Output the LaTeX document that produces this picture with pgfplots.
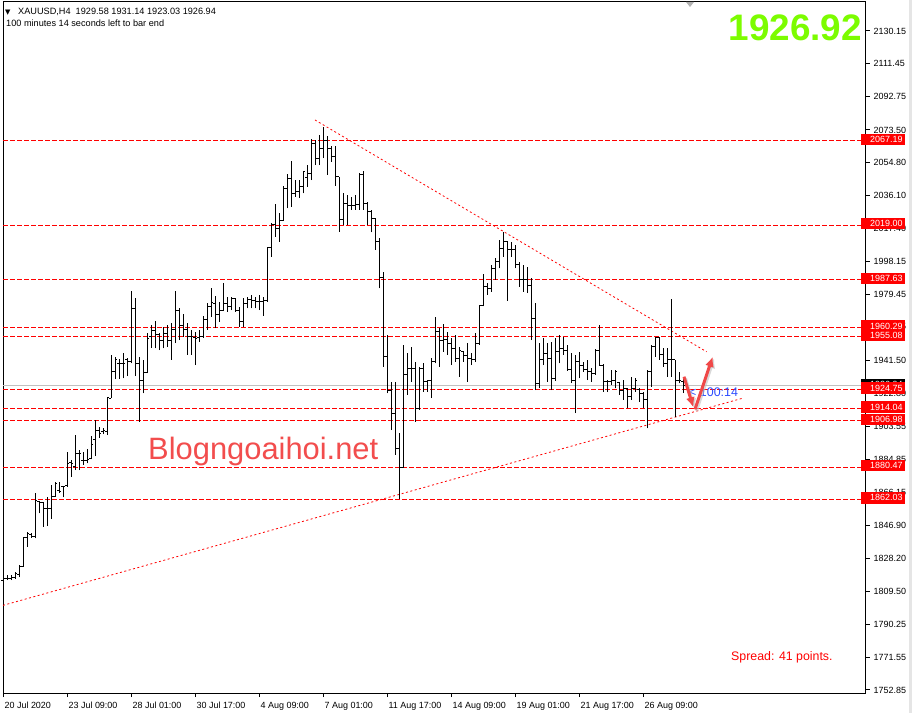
\documentclass[border=0pt]{standalone}
\usepackage{pgfplots}
\pgfplotsset{compat=1.18}
\usepackage{pgfplotstable}
\usepackage{fontspec}
\setmainfont{Liberation Sans}
\newfontfamily\dejavu{DejaVu Sans}
\usetikzlibrary{arrows.meta}

\definecolor{lvlred}{HTML}{FF0000}
\definecolor{arrred}{HTML}{F04848}
\definecolor{wmred}{HTML}{F24D4D}
\definecolor{pricegreen}{HTML}{7CFC00}
\definecolor{timerblue}{HTML}{2B4BFF}
\definecolor{bidgray}{HTML}{C0C0C0}

% open tick to the left, close tick to the right, nothing for the high-low line
\pgfdeclareplotmark{otick}{\pgfpathmoveto{\pgfqpoint{-2bp}{0pt}}\pgfpathlineto{\pgfqpoint{0pt}{0pt}}\pgfusepathqstroke}
\pgfdeclareplotmark{ctick}{\pgfpathmoveto{\pgfqpoint{0pt}{0pt}}\pgfpathlineto{\pgfqpoint{2bp}{0pt}}\pgfusepathqstroke}
\pgfdeclareplotmark{nomark}{}

% XAUUSD H4 bars: index, open, high, low, close
\pgfplotstableread{
i o h l c
0 1815.8 1820.6 1814.9 1816.4
1 1816.4 1818.7 1815.8 1816.7
2 1816.7 1818.7 1815.8 1817.0
3 1817.0 1820.4 1816.4 1819.3
4 1818.7 1824.4 1817.5 1823.8
5 1823.8 1840.6 1823.4 1839.9
6 1839.9 1843.5 1834.9 1842.7
7 1841.6 1842.7 1839.9 1840.5
8 1840.5 1865.8 1839.7 1861.2
9 1860.7 1861.2 1854.0 1860.1
10 1860.1 1860.7 1846.3 1856.9
11 1856.9 1863.5 1846.7 1856.9
12 1856.9 1870.2 1850.8 1863.9
13 1863.9 1871.8 1863.5 1871.2
14 1866.8 1872.1 1865.8 1866.4
15 1869.3 1869.7 1863.2 1869.6
16 1870.2 1889.1 1869.3 1882.6
17 1883.0 1884.5 1875.0 1882.6
18 1880.7 1898.9 1878.8 1888.0
19 1888.4 1890.3 1878.8 1888.0
20 1884.5 1889.3 1881.7 1884.5
21 1884.5 1890.7 1882.6 1885.1
22 1885.5 1898.5 1884.9 1893.5
23 1896.0 1907.4 1886.8 1901.7
24 1901.7 1903.6 1897.3 1899.8
25 1900.7 1902.7 1899.4 1901.7
26 1900.7 1920.8 1898.9 1920.4
27 1920.0 1944.7 1919.9 1935.1
28 1935.1 1943.7 1930.9 1941.8
29 1939.9 1942.4 1931.1 1939.9
30 1939.9 1945.6 1931.3 1939.9
31 1941.8 1942.8 1932.6 1940.8
32 1940.8 1981.3 1939.9 1971.4
33 1971.4 1977.1 1932.6 1939.9
34 1939.9 1943.7 1906.5 1929.9
35 1929.9 1941.8 1922.7 1934.5
36 1934.5 1957.1 1934.2 1954.2
37 1955.5 1961.8 1948.7 1958.6
38 1958.6 1964.3 1948.5 1956.1
39 1956.1 1957.1 1947.5 1952.8
40 1953.2 1960.9 1948.5 1956.7
41 1956.7 1961.8 1949.2 1953.2
42 1953.2 1963.0 1941.8 1959.4
43 1959.4 1981.0 1951.5 1970.4
44 1970.4 1971.4 1953.2 1961.8
45 1961.8 1968.1 1955.1 1959.0
46 1959.0 1963.0 1944.7 1955.1
47 1955.1 1959.0 1944.7 1955.1
48 1954.9 1958.0 1938.9 1954.2
49 1954.4 1959.0 1952.3 1955.1
50 1955.1 1967.0 1954.5 1964.7
51 1964.7 1974.6 1959.0 1972.3
52 1972.3 1982.8 1966.6 1974.6
53 1974.4 1978.4 1959.9 1967.6
54 1967.6 1975.2 1963.7 1970.4
55 1970.4 1985.7 1969.8 1974.3
56 1974.3 1978.0 1969.4 1972.3
57 1972.3 1977.7 1970.4 1977.1
58 1977.1 1977.5 1969.4 1970.4
59 1970.4 1972.3 1960.9 1963.7
60 1963.7 1977.1 1960.9 1973.9
61 1973.9 1977.7 1971.4 1976.5
62 1976.5 1979.0 1971.4 1975.7
63 1975.7 1978.0 1971.4 1975.2
64 1975.2 1979.0 1970.4 1975.2
65 1975.2 1977.7 1967.0 1975.7
66 1975.7 2006.7 1975.2 2006.3
67 2006.3 2020.1 2000.9 2019.1
68 2019.1 2031.1 2012.4 2017.2
69 2017.2 2025.8 2009.5 2021.9
70 2021.9 2041.4 2021.4 2040.1
71 2040.1 2048.3 2028.6 2045.8
72 2045.8 2055.7 2029.6 2037.2
73 2037.2 2044.8 2035.3 2038.1
74 2038.1 2044.8 2034.4 2041.0
75 2041.0 2050.2 2037.2 2049.6
76 2046.0 2053.4 2041.0 2048.7
77 2048.7 2068.3 2044.8 2066.0
78 2066.0 2067.7 2053.4 2057.3
79 2057.3 2070.6 2053.4 2063.0
80 2063.0 2075.4 2057.4 2067.7
81 2067.7 2070.2 2047.7 2063.0
82 2063.0 2064.5 2055.3 2058.2
83 2058.2 2064.5 2041.6 2046.7
84 2046.7 2046.7 2015.2 2022.5
85 2022.5 2037.2 2019.1 2031.5
86 2031.5 2036.3 2019.1 2030.5
87 2030.5 2035.3 2027.7 2030.5
88 2030.5 2036.3 2027.7 2030.9
89 2030.9 2048.7 2027.7 2047.7
90 2047.7 2050.0 2027.7 2031.5
91 2031.5 2032.1 2019.1 2026.7
92 2026.7 2027.7 2014.9 2022.9
93 2022.9 2022.9 2004.8 2009.5
94 2009.5 2011.5 1982.8 1988.9
95 1988.9 1992.3 1938.0 1943.7
96 1943.7 1956.1 1922.7 1924.6
97 1924.6 1929.4 1901.7 1911.3
98 1911.3 1929.4 1887.4 1891.2
99 1891.2 1899.8 1862.0 1880.1
100 1880.1 1950.4 1880.1 1933.2
101 1933.2 1945.6 1921.8 1937.0
102 1937.0 1949.4 1929.4 1937.0
103 1937.0 1940.8 1906.5 1914.1
104 1914.1 1938.0 1913.2 1937.0
105 1937.0 1939.9 1923.6 1929.4
106 1929.4 1930.3 1923.6 1930.3
107 1930.3 1942.8 1919.9 1940.8
108 1940.8 1966.6 1939.9 1958.0
109 1958.0 1959.9 1938.0 1953.2
110 1953.2 1962.2 1946.5 1953.8
111 1953.8 1958.0 1944.7 1951.4
112 1951.4 1954.4 1938.9 1948.5
113 1948.5 1956.1 1940.8 1942.8
114 1942.8 1949.4 1932.2 1947.5
115 1946.5 1946.8 1940.8 1944.3
116 1944.3 1951.4 1929.4 1942.8
117 1942.8 1945.6 1938.9 1941.8
118 1941.8 1957.1 1940.5 1951.4
119 1951.4 1973.3 1950.4 1973.0
120 1973.0 1990.9 1972.5 1983.8
121 1983.8 1985.7 1979.0 1982.8
122 1982.8 1996.2 1980.9 1994.3
123 1994.3 2000.0 1987.6 1998.1
124 1998.1 2010.5 1994.3 2005.7
125 2005.7 2015.2 2000.9 2009.5
126 2009.5 2010.0 1975.6 2004.8
127 2004.8 2009.5 2000.9 2004.8
128 2004.8 2007.6 1994.3 1996.2
129 1996.2 1998.1 1983.8 1987.6
130 1987.6 1996.2 1980.9 1987.6
131 1987.6 1995.2 1980.0 1984.7
132 1984.7 1988.6 1953.2 1965.7
133 1965.7 1974.3 1924.6 1928.5
134 1928.5 1951.4 1925.6 1941.8
135 1941.8 1954.2 1938.9 1945.6
136 1945.6 1951.4 1929.4 1942.8
137 1942.8 1952.3 1924.6 1931.3
138 1931.3 1954.2 1930.0 1946.5
139 1946.5 1956.1 1939.9 1948.5
140 1948.5 1955.1 1944.7 1947.5
141 1947.5 1950.4 1935.5 1936.1
142 1936.1 1945.6 1928.5 1930.3
143 1930.3 1944.7 1911.3 1940.8
144 1940.8 1946.5 1931.3 1938.9
145 1938.9 1940.8 1935.1 1936.1
146 1936.1 1941.8 1930.3 1935.1
147 1935.1 1937.0 1929.4 1934.2
148 1934.2 1948.0 1933.2 1947.5
149 1947.5 1961.8 1938.9 1938.9
150 1938.9 1939.5 1923.6 1929.4
151 1929.4 1930.3 1923.6 1929.4
152 1929.4 1936.1 1927.5 1930.3
153 1930.3 1936.1 1925.6 1935.1
154 1929.0 1929.4 1921.8 1924.6
155 1924.6 1930.3 1918.9 1925.6
156 1925.6 1925.6 1914.1 1920.8
157 1920.8 1932.2 1918.9 1925.6
158 1925.6 1931.3 1923.6 1930.3
159 1925.0 1925.6 1917.9 1922.7
160 1922.7 1923.6 1914.1 1918.9
161 1918.9 1936.1 1902.7 1935.1
162 1935.1 1950.4 1926.5 1949.4
163 1949.4 1955.1 1943.7 1954.4
164 1954.4 1955.1 1941.8 1944.7
165 1944.7 1948.5 1938.0 1939.9
166 1939.9 1948.5 1932.2 1941.8
167 1941.8 1976.7 1932.2 1941.8
168 1941.8 1941.8 1909.3 1930.3
169 1930.3 1935.1 1928.4 1930.3
170 1929.58 1931.14 1923.03 1926.94
}\bars

\tikzset{
  lvl/.style={lvlred, line width=1bp, dash pattern=on 4.5bp off 2.5bp},
  trend/.style={lvlred, line width=0.8bp, dash pattern=on 2bp off 2.5bp},
  lvlbox/.style={fill=lvlred, text=white, anchor=west, inner xsep=2bp, inner ysep=0pt,
    minimum height=11.5bp, xshift=-4.5bp, yshift=1.5bp, font=\fontsize{9}{10}\selectfont},
}

\begin{document}
\begin{tikzpicture}
\useasboundingbox (0,0) rectangle (912bp,713bp);
\begin{axis}[
  at={(3bp,20bp)}, anchor=south west,
  scale only axis, width=862.5bp, height=691bp,
  xmin=-0.1, xmax=215.525, ymin=1751.13, ymax=2146.75,
  clip=false,
  axis line style={line width=1bp, black},
  xtick pos=left, ytick pos=right, yticklabel pos=right,
  tick align=outside, major tick length=4bp,
  tick style={line width=1bp, black},
  xtick={0,16,...,160},
  xticklabels={20 Jul 2020, 23 Jul 09:00, 28 Jul 01:00, 30 Jul 17:00, 4 Aug 09:00, 7 Aug 01:00,
    11 Aug 17:00, 14 Aug 09:00, 19 Aug 01:00, 21 Aug 17:00, 26 Aug 09:00},
  ytick={1752.85,1771.55,1790.25,1809.50,1828.20,1846.90,1866.15,1884.85,1903.55,1922.80,
    1941.50,1960.75,1979.45,1998.15,2017.40,2036.10,2054.80,2073.50,2092.75,2111.45,2130.15},
  scaled y ticks=false,
  /pgf/number format/assume math mode=true,
  yticklabel style={/pgf/number format/fixed, /pgf/number format/fixed zerofill,
    /pgf/number format/precision=2, /pgf/number format/1000 sep={},
    anchor=west, inner sep=0pt, xshift=4bp},
  xticklabel style={anchor=north west, inner sep=0pt, xshift=1bp, yshift=-5bp},
  tick label style={font=\fontsize{9}{10}\selectfont, black},
]

% support / resistance levels
\addplot[lvl] coordinates {(-0.1,2067.19) (215.525,2067.19)};
\addplot[lvl] coordinates {(-0.1,2019.00) (215.525,2019.00)};
\addplot[lvl] coordinates {(-0.1,1987.63) (215.525,1987.63)};
\addplot[lvl] coordinates {(-0.1,1960.29) (215.525,1960.29)};
\addplot[lvl] coordinates {(-0.1,1955.08) (215.525,1955.08)};
\addplot[lvl] coordinates {(-0.1,1924.75) (215.525,1924.75)};
\addplot[lvl] coordinates {(-0.1,1914.04) (215.525,1914.04)};
\addplot[lvl] coordinates {(-0.1,1906.98) (215.525,1906.98)};
\addplot[lvl] coordinates {(-0.1,1880.47) (215.525,1880.47)};
\addplot[lvl] coordinates {(-0.1,1862.03) (215.525,1862.03)};
% bid line
\addplot[bidgray, line width=1bp] coordinates {(-0.1,1926.94) (215.525,1926.94)};

% triangle trend lines
\addplot[trend] coordinates {(77.9,2079.2) (175.8,1946.5)};
\addplot[trend] coordinates {(-0.1,1801.3) (184.8,1919.9)};

% OHLC bars
\addplot[only marks, mark=nomark, error bars/.cd, y dir=plus, y explicit, error mark=none,
  error bar style={black, line width=1bp, solid}]
  table[x=i, y=l, y error expr=\thisrow{h}-\thisrow{l}] {\bars};
\addplot[only marks, mark=otick, mark options={black, line width=1bp, solid}] table[x=i, y=o] {\bars};
\addplot[only marks, mark=ctick, mark options={black, line width=1bp, solid}] table[x=i, y=c] {\bars};

% price labels on the scale
\node[lvlbox] at (axis cs:215.525,2067.19) {\hspace{7bp}2067.19\hspace{1bp}};
\node[lvlbox] at (axis cs:215.525,2019.00) {\hspace{7bp}2019.00\hspace{1bp}};
\node[lvlbox] at (axis cs:215.525,1987.63) {\hspace{7bp}1987.63\hspace{1bp}};
\node[lvlbox] at (axis cs:215.525,1960.29) {\hspace{7bp}1960.29\hspace{1bp}};
\node[lvlbox] at (axis cs:215.525,1955.08) {\hspace{7bp}1955.08\hspace{1bp}};
\node[lvlbox, fill=black] at (axis cs:215.525,1926.9) {\hspace{7bp}1926.94\hspace{1bp}};
\node[lvlbox] at (axis cs:215.525,1924.75) {\hspace{7bp}1924.75\hspace{1bp}};
\node[lvlbox] at (axis cs:215.525,1914.04) {\hspace{7bp}1914.04\hspace{1bp}};
\node[lvlbox] at (axis cs:215.525,1906.98) {\hspace{7bp}1906.98\hspace{1bp}};
\node[lvlbox] at (axis cs:215.525,1880.47) {\hspace{7bp}1880.47\hspace{1bp}};
\node[lvlbox] at (axis cs:215.525,1862.03) {\hspace{7bp}1862.03\hspace{1bp}};
\end{axis}

% header
\node[anchor=base west, inner sep=0pt] at (5bp,698bp) {\dejavu\fontsize{7}{8}\selectfont ▼};
\node[anchor=base west, inner sep=0pt] at (18bp,698bp) {\fontsize{9.2}{10}\selectfont XAUUSD,H4\ \ 1929.58 1931.14 1923.03 1926.94};
\node[anchor=base west, inner sep=0pt] at (6bp,686.5bp) {\fontsize{9.2}{10}\selectfont 100 minutes 14 seconds left to bar end};
\fill[gray!60] (686bp,711bp) -- (694bp,711bp) -- (690bp,706bp) -- cycle;

% big price
\node[anchor=base east, inner sep=0pt, text=pricegreen] at (862bp,672bp) {\fontsize{37}{40}\selectfont\bfseries 1926.92};

% watermark
\node[anchor=base west, inner sep=0pt, text=wmred] at (148bp,253bp) {\fontsize{31}{34}\selectfont Blogngoaihoi.net};

% timer
\node[anchor=west, inner sep=0pt, text=timerblue] at (689bp,320.5bp) {\fontsize{12.5}{14}\selectfont < 100:14};

% projected move arrows
\draw[gray!50, opacity=0.6, line width=3bp, -{Latex[length=10bp,width=9bp]}] (685.5bp,334.8bp) -- (694.8bp,304.2bp);
\draw[gray!50, opacity=0.6, line width=3bp, -{Latex[length=10bp,width=9bp]}] (696.5bp,302.2bp) -- (714.2bp,354.8bp);
\draw[arrred, line width=3bp, -{Latex[length=10bp,width=9bp]}] (684bp,336.3bp) -- (693.3bp,305.7bp);
\draw[arrred, line width=3bp, -{Latex[length=10bp,width=9bp]}] (695bp,303.7bp) -- (712.7bp,356.3bp);

% spread
\node[anchor=base west, inner sep=0pt, text=lvlred] at (731bp,52bp) {\fontsize{12.4}{14}\selectfont Spread: 41 points.};

\fill[gray!20] (909bp,0) rectangle (912bp,713bp);
\end{tikzpicture}
\end{document}
